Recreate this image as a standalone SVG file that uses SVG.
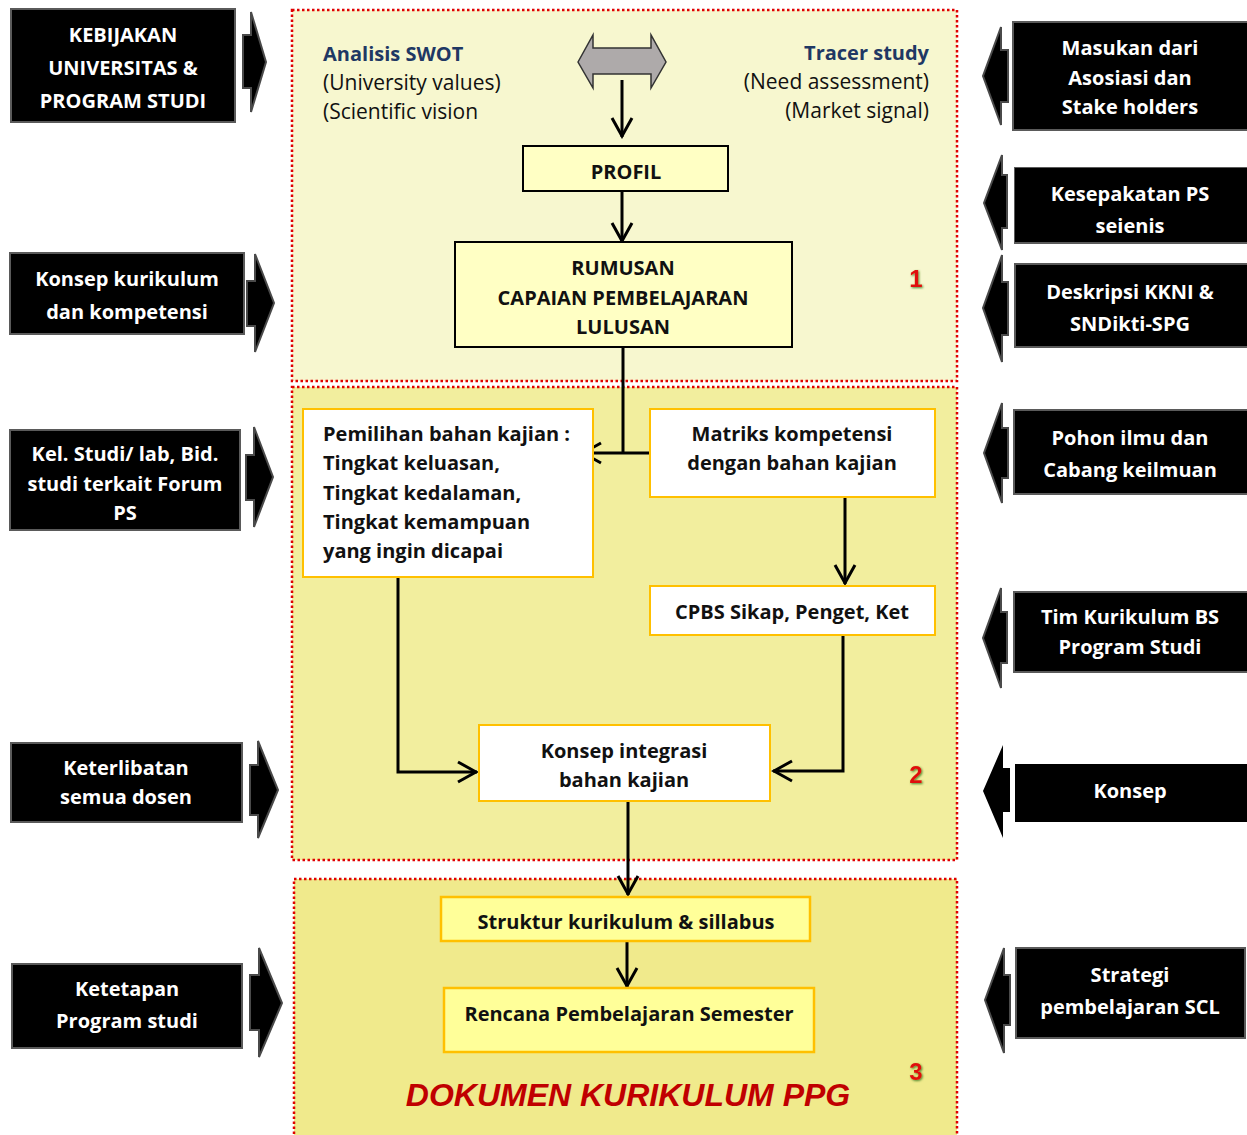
<svg xmlns="http://www.w3.org/2000/svg" width="1247" height="1135" viewBox="0 0 1247 1135">
  <defs>
    <style>
      .panel { stroke: #e00000; stroke-width: 2.5; stroke-dasharray: 2.5 2.5; }
      .blk { fill: #000; stroke: #5a5a5a; stroke-width: 2; }
      .blkarrow { fill: #000; stroke: #4a4a4a; stroke-width: 2; stroke-linejoin: miter; }
      .wt { font-family: "Open Sans", Lato, sans-serif; font-weight: bold; font-size: 20px; fill: #fff; text-anchor: middle; }
      .bt { font-family: "Open Sans", Lato, sans-serif; font-weight: bold; font-size: 20px; fill: #111; }
      .rt { font-family: "Open Sans", Lato, sans-serif; font-size: 21px; fill: #111; }
      .navy { font-family: "Open Sans", Lato, sans-serif; font-weight: bold; font-size: 20px; fill: #1f3864; }
      .mid { text-anchor: middle; }
      .box1 { fill: #ffffc4; stroke: #000; stroke-width: 2; }
      .boxw { fill: #fff; stroke: #ffc000; stroke-width: 2; }
      .boxy { fill: #ffff99; stroke: #ffc000; stroke-width: 2.5; }
      .wire { fill: none; stroke: #000; stroke-width: 3; }
      .num { font-family: "Liberation Sans", Arial, sans-serif; font-weight: bold; font-size: 24px; fill: #e01010; text-anchor: middle; filter: url(#glow); }
    </style>
    <marker id="chev" viewBox="0 0 24 24" markerWidth="24" markerHeight="24" refX="22" refY="12" orient="auto" markerUnits="userSpaceOnUse">
      <path d="M3,2 L21,12 L3,22" fill="none" stroke="#000" stroke-width="3"/>
    </marker>
    <filter id="glow" x="-50%" y="-50%" width="200%" height="200%">
      <feDropShadow dx="1" dy="1" stdDeviation="1.2" flood-color="#3a7a20" flood-opacity="0.9"/>
    </filter>
  </defs>

  <rect width="1247" height="1135" fill="#fff"/>

  <!-- stage panels -->
  <rect class="panel" x="292" y="10" width="665" height="371" fill="#f7f7cf"/>
  <rect class="panel" x="292" y="387" width="665" height="473" fill="#f2ee9e"/>
  <rect class="panel" x="294" y="879" width="663" height="262" fill="#f0ea8c"/>

  <text class="num" x="916" y="287">1</text>
  <text class="num" x="916" y="783">2</text>
  <text class="num" x="916" y="1080">3</text>

  <!-- input boxes, left side -->
  <g id="kebijakan">
    <rect class="blk" x="11" y="9" width="224" height="113"/>
    <text class="wt" x="123" y="42">KEBIJAKAN</text>
    <text class="wt" x="123" y="75">UNIVERSITAS &amp;</text>
    <text class="wt" x="123" y="108">PROGRAM STUDI</text>
    <polygon class="blkarrow" points="243,35 251,35 251,12 266,62 251,112 251,88 243,88"/>
  </g>
  <g id="konsep-kurikulum">
    <rect class="blk" x="10" y="253" width="234" height="81"/>
    <text class="wt" x="127" y="286">Konsep kurikulum</text>
    <text class="wt" x="127" y="319">dan kompetensi</text>
    <polygon class="blkarrow" points="247,281 255,281 255,254 274,303 255,352 255,326 247,326"/>
  </g>
  <g id="kel-studi">
    <rect class="blk" x="10" y="430" width="230" height="100"/>
    <text class="wt" x="125" y="461">Kel. Studi/ lab, Bid.</text>
    <text class="wt" x="125" y="491">studi terkait Forum</text>
    <text class="wt" x="125" y="520">PS</text>
    <polygon class="blkarrow" points="246,455 254,455 254,427 273,477 254,527 254,500 246,500"/>
  </g>
  <g id="keterlibatan">
    <rect class="blk" x="11" y="743" width="231" height="79"/>
    <text class="wt" x="126" y="775">Keterlibatan</text>
    <text class="wt" x="126" y="804">semua dosen</text>
    <polygon class="blkarrow" points="250,765 258,765 258,741 278,790 258,838 258,815 250,815"/>
  </g>
  <g id="ketetapan">
    <rect class="blk" x="12" y="964" width="230" height="84"/>
    <text class="wt" x="127" y="996">Ketetapan</text>
    <text class="wt" x="127" y="1028">Program studi</text>
    <polygon class="blkarrow" points="250,975 259,975 259,948 282,1003 259,1057 259,1030 250,1030"/>
  </g>

  <!-- input boxes, right side -->
  <g id="masukan">
    <rect class="blk" x="1013" y="22" width="236" height="108"/>
    <text class="wt" x="1130" y="55">Masukan dari</text>
    <text class="wt" x="1130" y="85">Asosiasi dan</text>
    <text class="wt" x="1130" y="114">Stake holders</text>
    <polygon class="blkarrow" points="1008,50 1001,50 1001,27 983,76 1001,125 1001,102 1008,102"/>
  </g>
  <g id="kesepakatan">
    <svg x="1014" y="167" width="240" height="77" overflow="hidden">
      <rect class="blk" x="0" y="0" width="240" height="76"/>
      <text class="wt" x="116" y="34">Kesepakatan PS</text>
      <text class="wt" x="116" y="66">seienis</text>
    </svg>
    <polygon class="blkarrow" points="1007,175 1002,175 1002,155 984,203 1002,250 1002,228 1007,228"/>
  </g>
  <g id="deskripsi">
    <rect class="blk" x="1015" y="264" width="234" height="83"/>
    <text class="wt" x="1130" y="299">Deskripsi KKNI &amp;</text>
    <text class="wt" x="1130" y="331">SNDikti-SPG</text>
    <polygon class="blkarrow" points="1008,282 1002,282 1002,255 983,308 1002,362 1002,335 1008,335"/>
  </g>
  <g id="pohon-ilmu">
    <rect class="blk" x="1014" y="410" width="235" height="84"/>
    <text class="wt" x="1130" y="445">Pohon ilmu dan</text>
    <text class="wt" x="1130" y="477">Cabang keilmuan</text>
    <polygon class="blkarrow" points="1008,428 1002,428 1002,403 984,453 1002,503 1002,478 1008,478"/>
  </g>
  <g id="tim-kurikulum">
    <rect class="blk" x="1014" y="592" width="235" height="80"/>
    <text class="wt" x="1130" y="624">Tim Kurikulum BS</text>
    <text class="wt" x="1130" y="654">Program Studi</text>
    <polygon class="blkarrow" points="1007,612 1001,612 1001,588 983,638 1001,688 1001,663 1007,663"/>
  </g>
  <g id="konsep">
    <rect x="1015" y="764" width="234" height="58" fill="#000"/>
    <text class="wt" x="1130" y="798">Konsep</text>
    <polygon points="1010,768 1003,768 1003,745 983,791 1003,838 1003,812 1010,812" fill="#000"/>
  </g>
  <g id="strategi">
    <rect class="blk" x="1016" y="948" width="229" height="90"/>
    <text class="wt" x="1130" y="982">Strategi</text>
    <text class="wt" x="1130" y="1014">pembelajaran SCL</text>
    <polygon class="blkarrow" points="1010,975 1004,975 1004,948 985,1000 1004,1053 1004,1025 1010,1025"/>
  </g>

  <!-- connectors -->
  <g id="connectors">
    <path class="wire" d="M622,80 V137" marker-end="url(#chev)"/>
    <path class="wire" d="M622,191 V242" marker-end="url(#chev)"/>
    <path class="wire" d="M623,347 V453"/>
    <path class="wire" d="M650,453 H582" marker-end="url(#chev)"/>
    <path class="wire" d="M845,497 V584" marker-end="url(#chev)"/>
    <path class="wire" d="M843,635 V771 H773" marker-end="url(#chev)"/>
    <path class="wire" d="M398,577 V772 H477" marker-end="url(#chev)"/>
    <path class="wire" d="M628,801 V895" marker-end="url(#chev)"/>
    <path class="wire" d="M627,941 V987" marker-end="url(#chev)"/>
  </g>

  <!-- stage 1 -->
  <g id="swot">
    <text class="navy" x="323" y="61">Analisis SWOT</text>
    <text class="rt" x="323" y="90">(University values)</text>
    <text class="rt" x="323" y="119">(Scientific vision</text>
  </g>
  <g id="tracer">
    <text class="navy" x="929" y="60" text-anchor="end">Tracer study</text>
    <text class="rt" x="929" y="89" text-anchor="end">(Need assessment)</text>
    <text class="rt" x="929" y="118" text-anchor="end">(Market signal)</text>
  </g>
  <g id="double-arrow">
    <polygon points="578,62 593,35 593,48 651,48 651,35 666,62 651,88 651,74 593,74 593,88" fill="#aeaaaa" stroke="#333" stroke-width="1.5"/>
  </g>
  <g id="profil">
    <rect class="box1" x="523" y="146" width="205" height="45"/>
    <text class="bt mid" x="626" y="179">PROFIL</text>
  </g>
  <g id="rumusan">
    <rect class="box1" x="455" y="242" width="337" height="105"/>
    <text class="bt mid" x="623" y="275">RUMUSAN</text>
    <text class="bt mid" x="623" y="305">CAPAIAN PEMBELAJARAN</text>
    <text class="bt mid" x="623" y="334">LULUSAN</text>
  </g>

  <!-- stage 2 -->
  <g id="pemilihan">
    <rect class="boxw" x="303" y="409" width="290" height="168"/>
    <text class="bt" x="323" y="441">Pemilihan bahan kajian :</text>
    <text class="bt" x="323" y="470">Tingkat keluasan,</text>
    <text class="bt" x="323" y="500">Tingkat kedalaman,</text>
    <text class="bt" x="323" y="529">Tingkat kemampuan</text>
    <text class="bt" x="323" y="558">yang ingin dicapai</text>
  </g>
  <g id="matriks">
    <rect class="boxw" x="650" y="409" width="285" height="88"/>
    <text class="bt mid" x="792" y="441">Matriks kompetensi</text>
    <text class="bt mid" x="792" y="470">dengan bahan kajian</text>
  </g>
  <g id="cpbs">
    <rect class="boxw" x="650" y="586" width="285" height="49"/>
    <text class="bt mid" x="792" y="619">CPBS Sikap, Penget, Ket</text>
  </g>
  <g id="integrasi">
    <rect class="boxw" x="479" y="725" width="291" height="76"/>
    <text class="bt mid" x="624" y="758">Konsep integrasi</text>
    <text class="bt mid" x="624" y="787">bahan kajian</text>
  </g>

  <!-- stage 3 -->
  <g id="struktur">
    <rect class="boxy" x="441" y="897" width="369" height="44"/>
    <text class="bt mid" x="626" y="929">Struktur kurikulum &amp; sillabus</text>
  </g>
  <g id="rps">
    <rect class="boxy" x="444" y="988" width="370" height="64"/>
    <text class="bt mid" x="629" y="1021">Rencana Pembelajaran Semester</text>
  </g>
  <text x="628" y="1106" font-family="'Liberation Sans', Arial, sans-serif" font-weight="bold" font-style="italic" font-size="32" fill="#c00000" text-anchor="middle">DOKUMEN KURIKULUM PPG</text>
</svg>
